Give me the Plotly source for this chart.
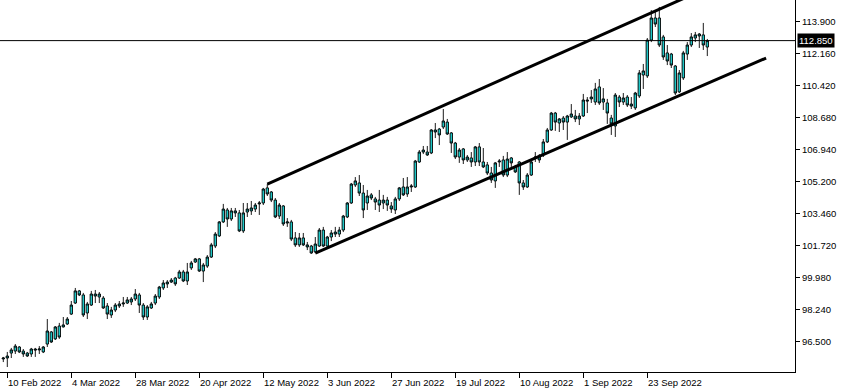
import plotly.graph_objects as go

# ---- data (daily candles) ----
opens = [95.54, 95.59, 95.86, 95.97, 96.19, 95.97, 95.86, 95.81, 96.08, 96.03,
         95.92, 96.35, 97.01, 96.63, 97.33, 97.28, 97.44, 97.98, 98.58, 99.24,
         99.02, 98.04, 98.47, 99.07, 98.91, 98.85, 98.42, 97.93, 98.20, 98.42,
         98.53, 98.58, 98.64, 98.80, 99.02, 98.47, 97.82, 98.31, 98.58, 98.91,
         99.40, 99.62, 99.72, 99.94, 99.94, 100.27, 99.78, 100.49, 100.81, 100.98,
         100.32, 100.59, 101.08, 101.68, 102.23, 102.99, 103.64, 103.15, 103.59, 103.48,
         102.50, 103.53, 103.59, 103.69, 103.97, 104.02, 104.84, 104.62, 104.18, 103.31,
         103.86, 102.93, 102.99, 102.12, 101.74, 102.12, 101.74, 101.68, 101.36, 101.68,
         102.55, 101.68, 102.17, 102.33, 102.33, 102.55, 103.26, 104.02, 105.00, 105.11,
         104.56, 104.02, 104.46, 104.24, 104.18, 104.02, 104.18, 103.86, 103.64, 104.24,
         104.89, 104.51, 104.89, 104.89, 106.25, 106.79, 106.79, 106.74, 107.99, 108.04,
         108.15, 108.42, 107.83, 107.28, 106.52, 106.96, 106.36, 106.47, 106.25, 107.07,
         106.25, 106.09, 105.65, 105.22, 106.25, 106.36, 105.54, 106.47, 105.98, 106.25,
         105.11, 104.89, 105.54, 106.47, 106.58, 106.63, 107.34, 107.99, 108.91, 108.37,
         108.64, 108.42, 108.70, 108.75, 108.59, 108.75, 109.62, 109.68, 109.51, 110.33,
         109.51, 109.46, 108.64, 108.21, 109.78, 109.51, 109.78, 109.40, 109.19, 109.84,
         110.98, 110.93, 112.88, 114.08, 114.08, 113.05, 112.18, 112.12, 111.47, 110.06,
         110.82, 112.12, 112.61, 112.99, 113.21, 113.16, 112.50]
highs = [95.65, 95.92, 96.14, 96.35, 96.24, 96.08, 95.92, 96.14, 96.14, 96.24,
         96.24, 97.71, 97.06, 97.33, 97.50, 97.82, 97.82, 98.69, 99.40, 99.29,
         99.13, 98.64, 99.24, 99.29, 99.18, 98.96, 98.58, 98.37, 98.58, 98.69,
         98.91, 98.91, 98.91, 99.34, 99.13, 98.58, 98.47, 98.64, 99.07, 99.51,
         99.83, 99.83, 99.94, 100.00, 100.38, 100.38, 100.76, 100.87, 101.03, 101.03,
         100.76, 101.19, 101.85, 102.44, 103.04, 103.97, 103.75, 103.75, 103.75, 103.64,
         104.02, 104.02, 104.13, 104.02, 104.13, 104.84, 105.05, 104.67, 104.29, 104.02,
         103.91, 103.20, 103.10, 102.44, 102.39, 102.39, 101.90, 101.74, 102.17, 102.66,
         102.72, 102.23, 102.55, 102.72, 102.72, 103.37, 104.07, 105.11, 105.43, 105.54,
         105.00, 104.73, 104.56, 104.35, 104.73, 104.46, 104.35, 104.07, 104.35, 104.89,
         105.38, 105.43, 105.05, 106.36, 106.90, 107.12, 107.12, 108.04, 108.37, 108.10,
         109.13, 108.59, 107.88, 107.34, 107.01, 107.01, 106.63, 106.79, 107.12, 107.28,
         107.01, 106.25, 105.98, 106.25, 106.41, 106.58, 106.79, 106.52, 106.09, 106.30,
         105.27, 105.65, 106.41, 106.79, 106.68, 107.50, 108.10, 108.97, 108.97, 108.64,
         108.75, 108.81, 109.40, 109.08, 108.91, 109.95, 109.78, 110.16, 110.55, 110.76,
         110.27, 109.68, 108.81, 110.00, 109.89, 110.00, 109.89, 109.78, 110.06, 111.25,
         111.58, 112.99, 114.51, 114.51, 114.68, 113.16, 112.61, 112.18, 111.52, 111.25,
         112.29, 112.77, 113.26, 113.32, 113.26, 113.81, 112.94]
lows = [95.37, 95.10, 95.59, 95.81, 95.86, 95.65, 95.65, 95.65, 95.65, 95.81,
        95.86, 96.19, 96.41, 96.57, 96.63, 97.25, 97.39, 97.93, 98.53, 98.96,
        97.82, 97.71, 98.42, 98.58, 98.58, 98.26, 97.71, 97.77, 98.09, 98.31,
        98.37, 98.53, 98.47, 98.69, 98.04, 97.66, 97.66, 98.26, 98.47, 98.80,
        99.29, 99.40, 99.67, 99.51, 99.89, 99.72, 99.56, 100.38, 100.76, 100.27,
        99.72, 100.49, 101.03, 101.57, 102.17, 102.93, 102.72, 103.04, 103.26, 102.44,
        102.39, 103.26, 103.37, 103.53, 103.37, 103.91, 104.40, 104.07, 103.20, 103.15,
        102.77, 102.72, 101.95, 101.63, 101.63, 101.68, 101.46, 101.25, 101.30, 101.63,
        101.63, 101.57, 101.95, 102.17, 102.17, 102.44, 103.20, 103.97, 104.89, 104.40,
        103.20, 103.64, 104.18, 103.64, 103.53, 103.69, 103.59, 103.48, 103.42, 104.13,
        104.40, 104.35, 104.62, 104.84, 106.20, 106.68, 106.58, 106.68, 107.55, 107.17,
        108.04, 107.72, 106.74, 106.41, 106.20, 106.14, 106.25, 105.98, 106.03, 106.03,
        105.92, 105.54, 105.11, 104.84, 105.98, 105.43, 105.43, 105.98, 105.65, 104.46,
        104.73, 104.84, 105.49, 106.25, 106.20, 106.52, 107.28, 107.94, 107.94, 107.88,
        107.99, 107.45, 108.64, 108.42, 108.26, 108.70, 108.91, 109.46, 109.35, 109.35,
        109.08, 108.32, 107.72, 107.61, 109.24, 109.35, 109.24, 109.13, 109.08, 109.73,
        110.22, 110.82, 112.77, 113.59, 112.50, 111.80, 111.52, 111.36, 109.89, 110.00,
        110.71, 111.80, 112.50, 112.77, 112.45, 112.34, 112.01]
closes = [95.59, 95.70, 96.03, 96.24, 95.92, 95.81, 95.70, 96.08, 96.03, 96.08,
          96.19, 97.06, 96.46, 97.28, 96.73, 97.39, 97.71, 98.47, 99.24, 99.02,
          97.93, 98.53, 99.07, 98.96, 99.07, 98.31, 97.98, 98.20, 98.47, 98.53,
          98.58, 98.75, 98.80, 99.07, 98.47, 97.82, 98.37, 98.53, 98.96, 99.45,
          99.67, 99.72, 99.83, 99.62, 100.27, 99.78, 100.27, 100.76, 100.98, 100.32,
          100.65, 101.08, 101.74, 102.33, 102.99, 103.69, 103.15, 103.59, 103.48, 102.50,
          103.48, 103.69, 103.75, 103.91, 104.02, 104.78, 104.51, 104.18, 103.26, 103.91,
          102.88, 102.99, 102.06, 101.74, 102.12, 101.74, 101.63, 101.30, 101.79, 102.55,
          101.68, 102.17, 102.39, 102.44, 102.55, 103.31, 104.02, 105.05, 105.22, 104.56,
          103.64, 104.40, 104.29, 104.07, 103.91, 104.18, 103.91, 103.69, 104.24, 104.84,
          104.46, 104.89, 104.94, 106.30, 106.79, 106.90, 106.63, 107.99, 107.88, 107.72,
          108.48, 107.77, 107.28, 106.52, 106.90, 106.36, 106.52, 106.25, 107.07, 106.25,
          105.98, 105.65, 105.27, 106.20, 106.30, 105.54, 106.41, 106.20, 105.71, 105.11,
          104.89, 105.54, 106.25, 106.52, 106.36, 107.34, 107.99, 108.91, 108.42, 108.59,
          108.42, 108.75, 108.86, 108.59, 108.75, 109.62, 109.57, 109.78, 110.22, 109.46,
          109.68, 108.91, 108.32, 109.89, 109.51, 109.73, 109.35, 109.29, 110.00, 111.09,
          111.20, 112.88, 114.08, 113.75, 112.61, 111.96, 111.74, 111.52, 110.00, 111.09,
          112.18, 112.61, 113.05, 113.16, 113.10, 112.61, 112.85]

# x-axis date labels and the candle index they sit on
tick_index = [1, 17, 33, 49, 65, 81, 97, 113, 129, 145, 161]
tick_labels = ["10 Feb 2022", "4 Mar 2022", "28 Mar 2022", "20 Apr 2022", "12 May 2022",
               "3 Jun 2022", "27 Jun 2022", "19 Jul 2022", "10 Aug 2022", "1 Sep 2022",
               "23 Sep 2022"]

# y-axis price levels
price_ticks = [96.50, 98.24, 99.98, 101.72, 103.46, 105.20, 106.94, 108.68, 110.42, 112.16, 113.90]

last_price = 112.85

# channel trend lines (candle index, price)
upper_channel = [(66, 105.05), (172, 115.33)]
lower_channel = [(78, 101.29), (190.7, 111.90)]

FONT = "Liberation Sans"
CYAN = "#1FCACA"

x_idx = list(range(len(opens)))

fig = go.Figure()
fig.add_trace(go.Candlestick(
    x=x_idx, open=opens, high=highs, low=lows, close=closes,
    increasing=dict(fillcolor=CYAN, line=dict(color="black", width=0.9)),
    decreasing=dict(fillcolor=CYAN, line=dict(color="black", width=0.9)),
    whiskerwidth=0, showlegend=False, hoverinfo="skip",
))

shapes = []
for (x0, y0), (x1, y1) in [upper_channel, lower_channel]:
    shapes.append(dict(type="line", xref="x", yref="y", x0=x0, y0=y0, x1=x1, y1=y1,
                       line=dict(color="black", width=3)))
shapes.append(dict(type="line", xref="paper", yref="y", x0=0, x1=1,
                   y0=last_price, y1=last_price, line=dict(color="black", width=1)))

annotations = []
for xi, lab in zip(tick_index, tick_labels):
    annotations.append(dict(x=xi, y=0, xref="x", yref="paper", text=lab,
                            showarrow=False, xanchor="left", yanchor="top",
                            xshift=-1, yshift=-3,
                            font=dict(family=FONT, size=9.5, color="black")))
annotations.append(dict(x=1, y=last_price, xref="paper", yref="y",
                        text=f"{last_price:.3f}", showarrow=False,
                        xanchor="left", yanchor="middle", xshift=2,
                        bgcolor="black", borderpad=1,
                        font=dict(family=FONT, size=9.5, color="white")))

fig.update_layout(
    width=842, height=392,
    margin=dict(l=0, r=47, t=0, b=20),
    paper_bgcolor="white", plot_bgcolor="white",
    boxgap=0.15,
    shapes=shapes, annotations=annotations,
    font=dict(family=FONT, size=9.5, color="black"),
    xaxis=dict(range=[-0.825, 197.925], showgrid=False, zeroline=False,
               rangeslider=dict(visible=False),
               tickmode="array", tickvals=tick_index, showticklabels=False,
               ticks="outside", ticklen=5, tickcolor="black",
               showline=True, linecolor="black", linewidth=1),
    yaxis=dict(range=[94.83, 115.058], side="right", showgrid=False, zeroline=False,
               tickmode="array", tickvals=price_ticks,
               ticktext=[f"{v:.3f}" for v in price_ticks],
               ticks="outside", ticklen=4, tickcolor="black",
               showline=True, linecolor="black", linewidth=1,
               tickfont=dict(family=FONT, size=9.5, color="black")),
)

fig.write_html("out.html", config={"displayModeBar": False},
               post_script="document.body.style.margin='0';")
